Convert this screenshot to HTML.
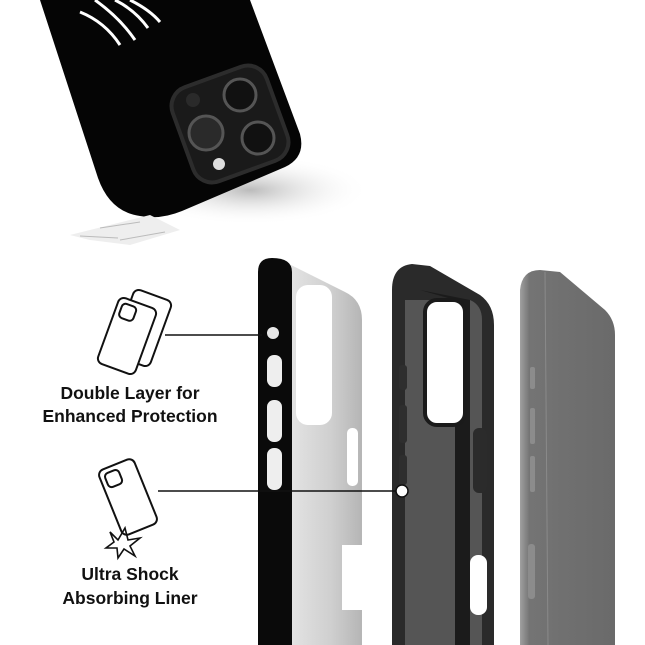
<!DOCTYPE html>
<html><head><meta charset="utf-8"><style>
html,body{margin:0;padding:0;background:#fff}
svg{display:block}
text{font-family:"Liberation Sans",Arial,sans-serif;font-weight:bold;fill:#111}
</style></head><body>
<svg width="645" height="645" viewBox="0 0 645 645" xmlns="http://www.w3.org/2000/svg">
<defs>
<linearGradient id="shell" x1="0" x2="1"><stop offset="0" stop-color="#e6e6e6"/><stop offset="0.6" stop-color="#cfcfcf"/><stop offset="1" stop-color="#b5b5b5"/></linearGradient>
<linearGradient id="phone" x1="0" x2="1"><stop offset="0" stop-color="#a0a0a0"/><stop offset="0.1" stop-color="#747474"/><stop offset="1" stop-color="#6a6a6a"/></linearGradient>
<radialGradient id="shadow" cx="0.5" cy="0.5" r="0.5"><stop offset="0" stop-color="#bbb"/><stop offset="1" stop-color="#fff" stop-opacity="0"/></radialGradient>
</defs>
<rect width="645" height="645" fill="#fff"/>
<!-- top phone -->
<ellipse cx="250" cy="190" rx="120" ry="35" fill="url(#shadow)"/>
<path d="M40,0 L98,178 Q110,212 140,216 Q160,220 182,211 L285,167 Q306,157 300,134 L250,0 Z" fill="#050505"/>
<path d="M80,12 Q105,22 120,45 M95,0 Q120,18 135,40 M115,0 Q135,10 148,28 M130,0 Q150,10 160,22" stroke="#fff" stroke-width="3" fill="none"/>
<g transform="translate(230,124) rotate(-20)">
<rect x="-50" y="-50" width="100" height="100" rx="20" fill="#1a1a1a" stroke="#2c2c2c" stroke-width="4"/>
</g>
<circle cx="240" cy="95" r="16" fill="#111" stroke="#555" stroke-width="3"/>
<circle cx="206" cy="133" r="17" fill="#2a2a2a" stroke="#555" stroke-width="3"/>
<circle cx="258" cy="138" r="16" fill="#111" stroke="#555" stroke-width="3"/>
<circle cx="219" cy="164" r="6" fill="#ddd"/>
<circle cx="193" cy="100" r="7" fill="#2a2a2a"/>
<path d="M70,235 L110,225 L150,215 L180,230 L130,245 L90,240 Z" fill="#eee"/>
<path d="M100,228 L140,222 M120,240 L165,232 M80,236 L118,238" stroke="#bbb" stroke-width="1"/>
<!-- icons -->
<g fill="none" stroke="#111" stroke-width="2">
<g transform="translate(142,328) rotate(20)"><rect x="-20" y="-35" width="40" height="70" rx="6"/></g>
<g transform="translate(127,336) rotate(20)"><rect x="-20" y="-35" width="40" height="70" rx="6" fill="#fff"/><rect x="-15" y="-30" width="15" height="15" rx="4"/></g>
<g transform="translate(128,497) rotate(-22)"><rect x="-19" y="-35" width="38" height="70" rx="6"/><rect x="-14" y="-30" width="15" height="15" rx="4"/></g>
<path d="M110,532 L118,540 L125,528 L128,540 L140,538 L130,546 L135,556 L124,549 L118,558 L117,548 L106,548 L114,542 Z" stroke-width="1.6"/>
</g>
<text x="130" y="399" font-size="17.5" text-anchor="middle">Double Layer for</text>
<text x="130" y="422" font-size="17.5" text-anchor="middle">Enhanced Protection</text>
<text x="130" y="580" font-size="17.5" text-anchor="middle">Ultra Shock</text>
<text x="130" y="604" font-size="17.5" text-anchor="middle">Absorbing Liner</text>
<!-- shell panel 1 -->
<path d="M285,262 L345,292 Q362,300 362,320 L362,545 L342,545 L342,610 L362,610 L362,645 L290,645 Z" fill="url(#shell)"/>
<rect x="296" y="285" width="36" height="140" rx="12" fill="#fff"/>
<rect x="347" y="428" width="11" height="58" rx="5" fill="#fff"/>
<path d="M258,272 Q258,258 272,258 Q292,258 292,272 L292,645 L258,645 Z" fill="#0a0a0a"/>
<circle cx="273" cy="333" r="6" fill="#e8e8e8"/>
<rect x="267" y="355" width="15" height="32" rx="7" fill="#eee"/>
<rect x="267" y="400" width="15" height="42" rx="7" fill="#eee"/>
<rect x="267" y="448" width="15" height="42" rx="7" fill="#eee"/>
<!-- panel 2 -->
<path d="M392,290 Q392,266 412,264 L430,266 L480,295 Q494,305 494,325 L494,645 L392,645 Z" fill="#2a2a2a"/>
<path d="M405,300 L405,645 L482,645 L482,320 Q482,305 470,300 Z" fill="#555"/>
<path d="M420,290 L470,300 L470,645 L455,645 L455,300 Z" fill="#1b1b1b"/>
<rect x="425" y="300" width="40" height="125" rx="12" fill="#fff" stroke="#1a1a1a" stroke-width="4"/>
<rect x="470" y="555" width="17" height="60" rx="8" fill="#fff"/>
<rect x="473" y="428" width="14" height="65" rx="6" fill="#2b2b2b"/>
<rect x="399" y="365" width="8" height="25" rx="3" fill="#2e2e2e"/>
<rect x="399" y="405" width="8" height="38" rx="3" fill="#2e2e2e"/>
<rect x="399" y="455" width="8" height="30" rx="3" fill="#2e2e2e"/>
<!-- panel 3 phone -->
<path d="M520,290 Q522,270 540,270 L560,272 L605,310 Q615,320 615,335 L615,645 L520,645 Z" fill="url(#phone)"/>
<path d="M545,272 L548,645" stroke="#8a8a8a" stroke-width="1"/>
<rect x="530" y="367" width="5" height="22" rx="2" fill="#8c8c8c"/>
<rect x="530" y="408" width="5" height="36" rx="2" fill="#8c8c8c"/>
<rect x="530" y="456" width="5" height="36" rx="2" fill="#8c8c8c"/>
<rect x="528" y="544" width="7" height="55" rx="3" fill="#8c8c8c"/>
<!-- connectors -->
<line x1="165" y1="335" x2="262" y2="335" stroke="#111" stroke-width="1.5"/>
<line x1="158" y1="491" x2="400" y2="491" stroke="#111" stroke-width="1.5"/>
<circle cx="402" cy="491" r="6" fill="#fff" stroke="#111" stroke-width="1.5"/>
</svg>
</body></html>
